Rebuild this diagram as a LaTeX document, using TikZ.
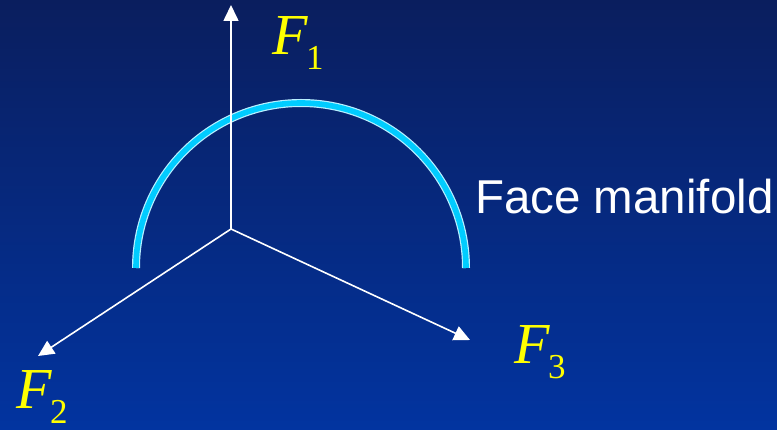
\documentclass[tikz,border=0pt]{standalone}
\usepackage{fontspec}
\setmainfont{Liberation Serif}
\newfontfamily\labelsans{Liberation Sans}
\usetikzlibrary{arrows.meta}
\definecolor{topnavy}{HTML}{0A1E5E}
\definecolor{botblue}{HTML}{0234A0}
\definecolor{bandcyan}{HTML}{00CCFF}
\definecolor{bandedge}{HTML}{B8F0FF}
\definecolor{labelyellow}{HTML}{FFFF00}
\newcommand{\axisname}[1]{\textit{F}\kern-2pt\raisebox{-15pt}{\fontsize{35}{40}\selectfont #1}}
\tikzset{
  axis/.style={draw=white, line width=1.6pt, -{Triangle[length=16pt,width=15pt]}},
  axislabel/.style={anchor=base west, inner sep=0pt, text=labelyellow, font=\fontsize{58}{60}\selectfont},
  manifold/.style={line width=8pt, draw=bandedge},
  manifoldcore/.style={line width=5.6pt, draw=bandcyan}
}
\begin{document}
\begin{tikzpicture}[x=1pt, y=-1pt]
  % background
  \shade[top color=topnavy, bottom color=botblue] (0,0) rectangle (777,430);
  \useasboundingbox (0,0) rectangle (777,430);

  % face manifold band
  \draw[manifold] (136,268) arc[start angle=180, end angle=360, radius=165];
  \draw[manifoldcore] (136,268) arc[start angle=180, end angle=360, radius=165];

  % axes
  \coordinate (o) at (231,229);
  \coordinate (t1) at (231,5);
  \coordinate (t2) at (38,356);
  \coordinate (t3) at (470,340);
  \draw[axis] (o) -- (t1);
  \draw[axis] (o) -- (t2);
  \draw[axis] (o) -- (t3);

  \node (f1) [axislabel] at (272,55) {\axisname{1}};
  \node (f2) [axislabel] at (16,409) {\axisname{2}};
  \node (f3) [axislabel] at (514,364) {\axisname{3}};
  \node (mf) [anchor=base west, inner sep=0pt, text=white,
    font=\labelsans\fontsize{47.5}{50}\selectfont] at (475,214) {Face manifold};
\end{tikzpicture}
\end{document}
